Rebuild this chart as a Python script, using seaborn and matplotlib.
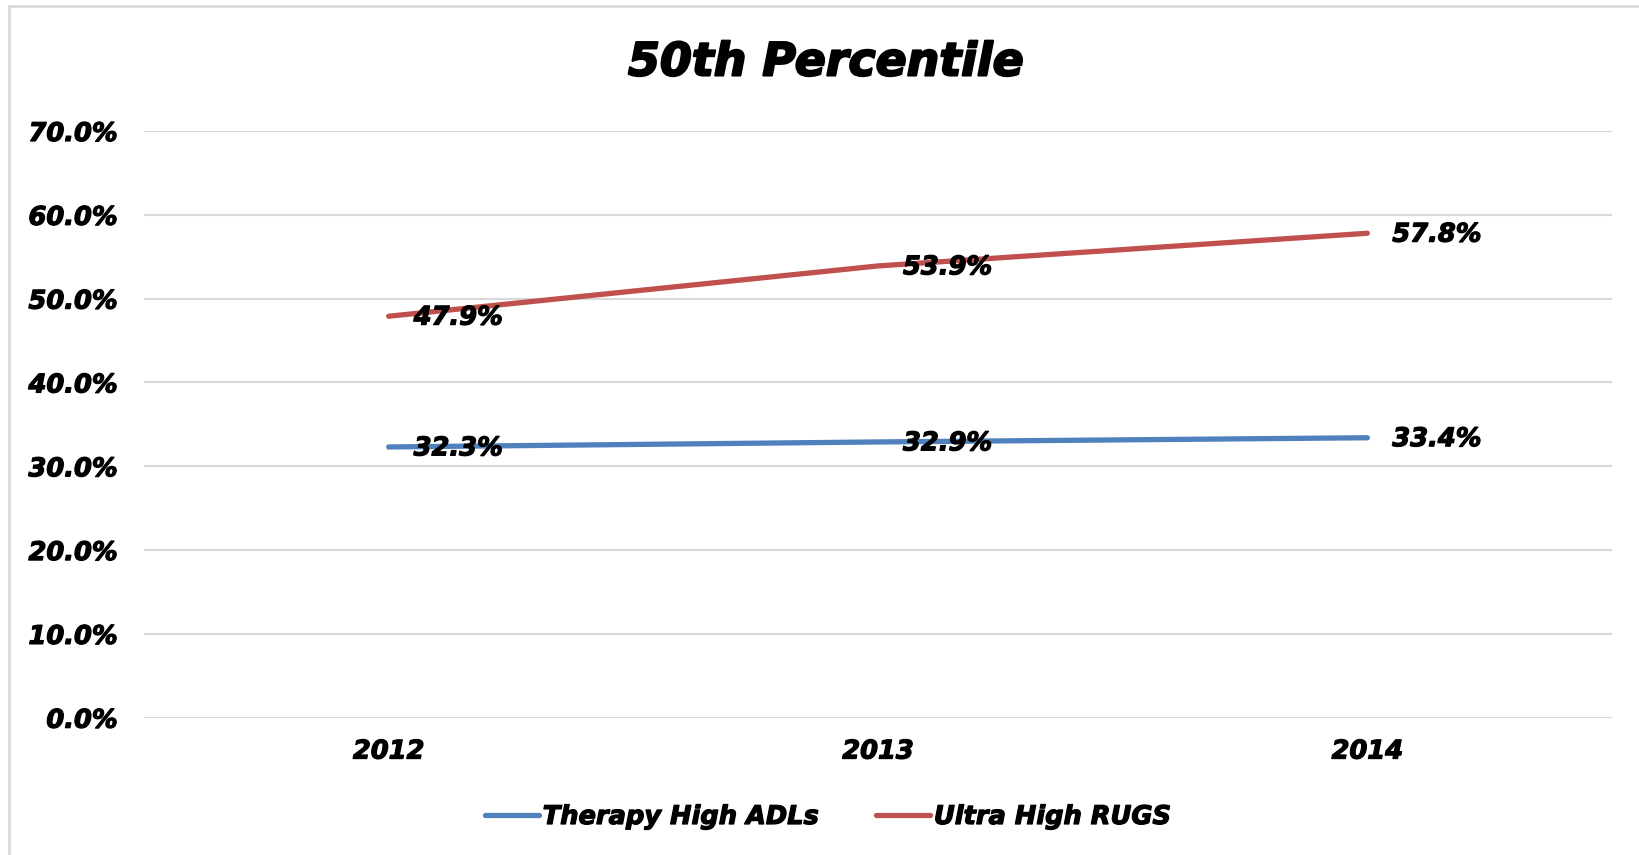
import matplotlib
matplotlib.use("Agg")
import matplotlib.pyplot as plt
import matplotlib.lines as mlines
import matplotlib.patheffects as pe
import seaborn as sns
import pandas as pd

years = ["2012", "2013", "2014"]
therapy_high_adls = [0.323, 0.329, 0.334]
ultra_high_rugs = [0.479, 0.539, 0.578]
series_names = ["Therapy High ADLs", "Ultra High RUGS"]
y_ticks = [0.0, 0.1, 0.2, 0.3, 0.4, 0.5, 0.6, 0.7]
title = "50th Percentile"

df = pd.DataFrame({
    "year": years * 2,
    "value": therapy_high_adls + ultra_high_rugs,
    "series": [series_names[0]] * 3 + [series_names[1]] * 3,
})

sns.set_theme(style="white")
plt.rcParams["font.family"] = ["DejaVu Sans"]
FONT = dict(fontweight="bold", fontstyle="italic", color="black")
THICK = [pe.withStroke(linewidth=0.9, foreground="black")]

fig = plt.figure(figsize=(16.4, 8.55), dpi=100)
ax = fig.add_axes([144 / 1640, 1 - 717.7 / 855, (1612 - 144) / 1640, (717.7 - 131) / 855])

palette = {series_names[0]: "#4F81BD", series_names[1]: "#C0504D"}
sns.lineplot(data=df, x="year", y="value", hue="series", palette=palette,
             linewidth=3.8, solid_capstyle="round", sort=False, ax=ax, legend=False)

ax.set_xlim(-0.5, 2.5)
ax.set_ylim(0, 0.7)
ax.set_yticks(y_ticks)
ax.set_yticklabels([f"{v*100:.1f}%" for v in y_ticks], fontsize=18.5, **FONT)
ax.set_xticks(range(len(years)))
ax.set_xticklabels(years, fontsize=18.5, **FONT)
for t in ax.get_xticklabels() + ax.get_yticklabels():
    t.set_path_effects(THICK)
ax.tick_params(axis="y", length=0, pad=19)
ax.tick_params(axis="x", length=0, pad=15)
ax.yaxis.grid(True, color="#D9D9D9", linewidth=1.5)
ax.xaxis.grid(False)
for s in ax.spines.values():
    s.set_visible(False)
ax.set_xlabel("")
ax.set_ylabel("")

for vals in (therapy_high_adls, ultra_high_rugs):
    for i, v in enumerate(vals):
        ax.annotate(f"{v*100:.1f}%", xy=(i, v), xytext=(18, -1), textcoords="offset points",
                    ha="left", va="center", fontsize=18.5, path_effects=THICK, **FONT)

fig.text(826 / 1640, 1 - 63 / 855, title, ha="center", va="center", fontsize=33,
         path_effects=[pe.withStroke(linewidth=1.5, foreground="black")], **FONT)

handles = [mlines.Line2D([], [], color=palette[n], linewidth=3.8, solid_capstyle="round") for n in series_names]
leg = fig.legend(handles, series_names, loc="center", bbox_to_anchor=(0.505, 1 - 817 / 855),
                 ncol=2, frameon=False, handlelength=2.1, handletextpad=0.15, columnspacing=2.2,
                 labelcolor="black",
                 prop=dict(family="DejaVu Sans", weight="bold", style="italic", size=18.5))
for t in leg.get_texts():
    t.set_path_effects(THICK)

border = dict(color="#D9D9D9", linewidth=2, transform=fig.transFigure)
fig.add_artist(mlines.Line2D([9 / 1640, 9 / 1640], [0, 1 - 6 / 855], **border))
fig.add_artist(mlines.Line2D([9 / 1640, 1], [1 - 6 / 855, 1 - 6 / 855], **border))

fig.savefig("out.png", dpi=100, facecolor="white")
